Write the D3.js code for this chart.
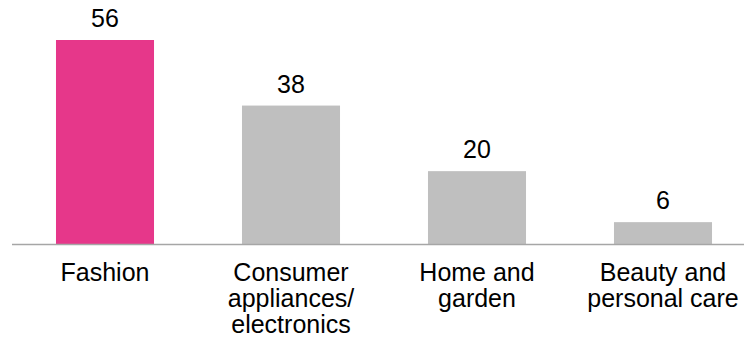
<!DOCTYPE html>
<head>
    <meta charset="utf-8">
    <script src="https://d3js.org/d3.v7.min.js"></script>
    <style>
        body { margin: 0; background: #fff; }
        text { font-family: Arial, "Liberation Sans", sans-serif; fill: #000; }
    </style>
</head>

<body>
    <svg width="744" height="343"></svg>

    <script>
        // data
        const categories = ["Fashion", "Consumer appliances/ electronics", "Home and garden", "Beauty and personal care"]
        const labelLines = [["Fashion"], ["Consumer", "appliances/", "electronics"], ["Home and", "garden"], ["Beauty and", "personal care"]]
        const values = [56, 38, 20, 6]
        const colors = ["#E6378A", "#BFBFBF", "#BFBFBF", "#BFBFBF"]

        let svg = d3.select("svg")
        const baseY = 244

        const x = d3.scaleBand()
            .domain(categories)
            .range([12, 756])
            .paddingInner(0.473)
            .paddingOuter(0.2365)

        const y = d3.scaleLinear()
            .domain([0, 56])
            .range([baseY, 40])

        // bars
        svg.selectAll("rect.bar")
            .data(values)
            .enter()
            .append("rect")
            .attr("class", "bar")
            .attr("x", (d, i) => x(categories[i]))
            .attr("width", x.bandwidth())
            .attr("y", d => y(d))
            .attr("height", d => baseY - y(d))
            .attr("fill", (d, i) => colors[i])

        // baseline
        svg.append("line")
            .attr("x1", 12)
            .attr("x2", 744)
            .attr("y1", baseY + 0.5)
            .attr("y2", baseY + 0.5)
            .attr("stroke", "#A6A6A6")
            .attr("stroke-width", 1.5)

        // value labels
        svg.selectAll("text.val")
            .data(values)
            .enter()
            .append("text")
            .attr("class", "val")
            .attr("x", (d, i) => x(categories[i]) + x.bandwidth() / 2)
            .attr("y", d => y(d) - 13)
            .attr("text-anchor", "middle")
            .attr("font-size", "25px")
            .text(d => d)

        // category labels
        let cat = svg.selectAll("text.cat")
            .data(labelLines)
            .enter()
            .append("text")
            .attr("class", "cat")
            .attr("text-anchor", "middle")
            .attr("font-size", "25px")
            .attr("transform", (d, i) => `translate(${x(categories[i]) + x.bandwidth() / 2},${baseY + 37})`)

        cat.selectAll("tspan")
            .data(d => d)
            .enter()
            .append("tspan")
            .attr("x", 0)
            .attr("y", (d, j) => j * 26)
            .text(d => d)
    </script>
</body>
